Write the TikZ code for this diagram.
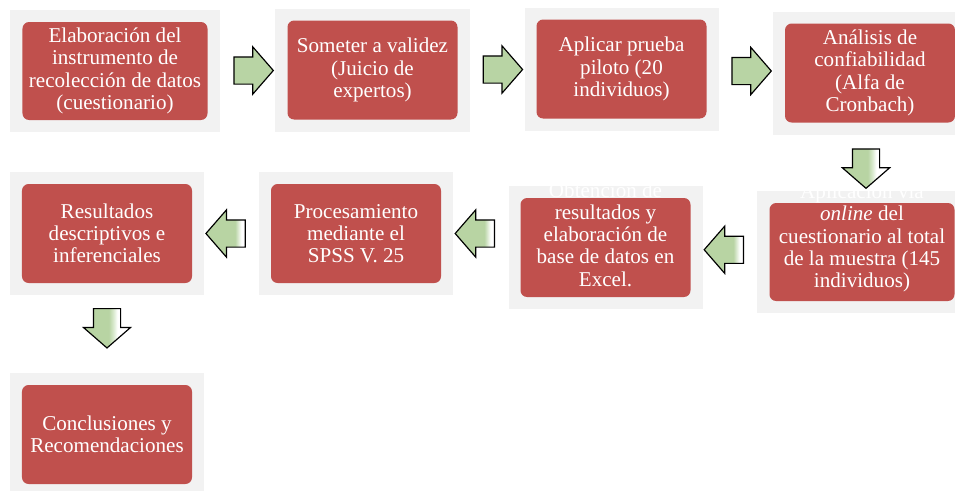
\documentclass[tikz,border=0pt]{standalone}
\usepackage{fontspec}
\setmainfont{Liberation Serif}
\usepackage{xcolor}
\usepackage{tikz}
\usetikzlibrary{shapes.arrows,calc}

\definecolor{boxred}{RGB}{192,80,77}
\definecolor{panelgray}{RGB}{242,242,242}
\definecolor{arrowgreen}{RGB}{184,212,164}
\pgfdeclarehorizontalshading{downshade}{100bp}{rgb(0bp)=(0.72,0.83,0.64); rgb(52bp)=(0.72,0.83,0.64); rgb(57bp)=(0.86,0.92,0.82); rgb(61bp)=(1,1,1); rgb(100bp)=(1,1,1)}
\pgfdeclarehorizontalshading{leftshade}{100bp}{rgb(0bp)=(0.72,0.83,0.64); rgb(62bp)=(0.72,0.83,0.64); rgb(70bp)=(1,1,1); rgb(100bp)=(1,1,1)}

\begin{document}
\begin{tikzpicture}[x=0.03cm,y=-0.03cm,
	panel/.style={fill=panelgray,minimum width=5.82cm,minimum height=3.69cm,inner sep=0pt},
	widepanel/.style={panel,minimum width=6.3cm,minimum height=3.66cm},
	stagebox/.style={fill=boxred,rounded corners=0.2cm,minimum width=5.1cm,minimum height=2.97cm,inner sep=2pt,
		text=white,align=center,font=\fontsize{18}{19}\selectfont},
	widebox/.style={stagebox,minimum width=5.55cm,minimum height=2.94cm},
	stagetext/.style={text=white,align=center,inner sep=0pt,font=\fontsize{18}{19}\selectfont},
	blockarrow/.style={single arrow,draw=black,line width=1pt,minimum height=1.18cm,inner xsep=0pt,inner ysep=0.39cm,
		single arrow head extend=0.3cm,single arrow tip angle=98},
	rarrow/.style={blockarrow,fill=arrowgreen},
	larrow/.style={blockarrow,shape border rotate=180,shade,shading=leftshade},
	darrow/.style={blockarrow,shape border rotate=270,inner xsep=0.39cm,inner ysep=0pt,shade,shading=downshade}]
	\useasboundingbox (0,0) rectangle (955,490);
	
	% first row
	\node[widepanel] (p1) at (115,71) {};
	\node[panel] (p2) at (372.5,70) {};
	\node[panel] (p3) at (621.5,69) {};
	\node[panel] (p4) at (870,73) {};
	\node[widebox] (b1) at (p1) {Elaboración del\\instrumento de\\recolección de datos\\(cuestionario)};
	\node[stagebox] (b2) at (p2) {Someter a validez\\(Juicio de\\expertos)};
	\node[stagebox] (b3) at (p3) {Aplicar prueba\\piloto (20\\individuos)};
	\node[stagebox] (b4) at (p4) {Análisis de\\confiabilidad\\(Alfa de\\Cronbach)};
	
	% second row
	\node[widepanel] (p5) at (862,252) {};
	\node[panel] (p6) at (605.5,247.5) {};
	\node[panel] (p7) at (356,233.5) {};
	\node[panel] (p8) at (107,233.5) {};
	\node[widebox] (b5) at (p5) {};
	\node[stagebox] (b6) at (p6) {};
	\node[stagebox] (b7) at (p7) {Procesamiento\\mediante el\\SPSS V. 25};
	\node[stagebox] (b8) at (p8) {Resultados\\descriptivos e\\inferenciales};
	\node[stagetext] (t5) at ($(b5)+(0,-14)$) {Aplicación vía\\\emph{online} del\\cuestionario al total\\de la muestra (145\\individuos)};
	\node[stagetext] (t6) at ($(b6)+(0,-13)$) {Obtención de\\resultados y\\elaboración de\\base de datos en\\Excel.};
	
	% last stage
	\node[panel] (p9) at (107,434.5) {};
	\node[stagebox] (b9) at (p9) {Conclusiones y\\Recomendaciones};
	
	% arrows
	\node[rarrow] (a1) at ($(p1.east)!0.5!(p2.west)$) {};
	\node[rarrow] (a2) at ($(p2.east)!0.5!(p3.west)$) {};
	\node[rarrow] (a3) at ($(p3.east)!0.5!(p4.west)$) {};
	\node[darrow] (a4) at ($(p4.south)!0.5!(p5.north)$) {};
	\node[larrow] (a5) at ($(p5.west)!0.5!(p6.east)$) {};
	\node[larrow] (a6) at ($(p7.east)!0.5!(p6.west |- p7.east)$) {};
	\node[larrow] (a7) at ($(p8.east)!0.5!(p7.west)$) {};
	\node[darrow] (a8) at ($(p8.south)!0.35!(p9.north)$) {};
\end{tikzpicture}
\end{document}
